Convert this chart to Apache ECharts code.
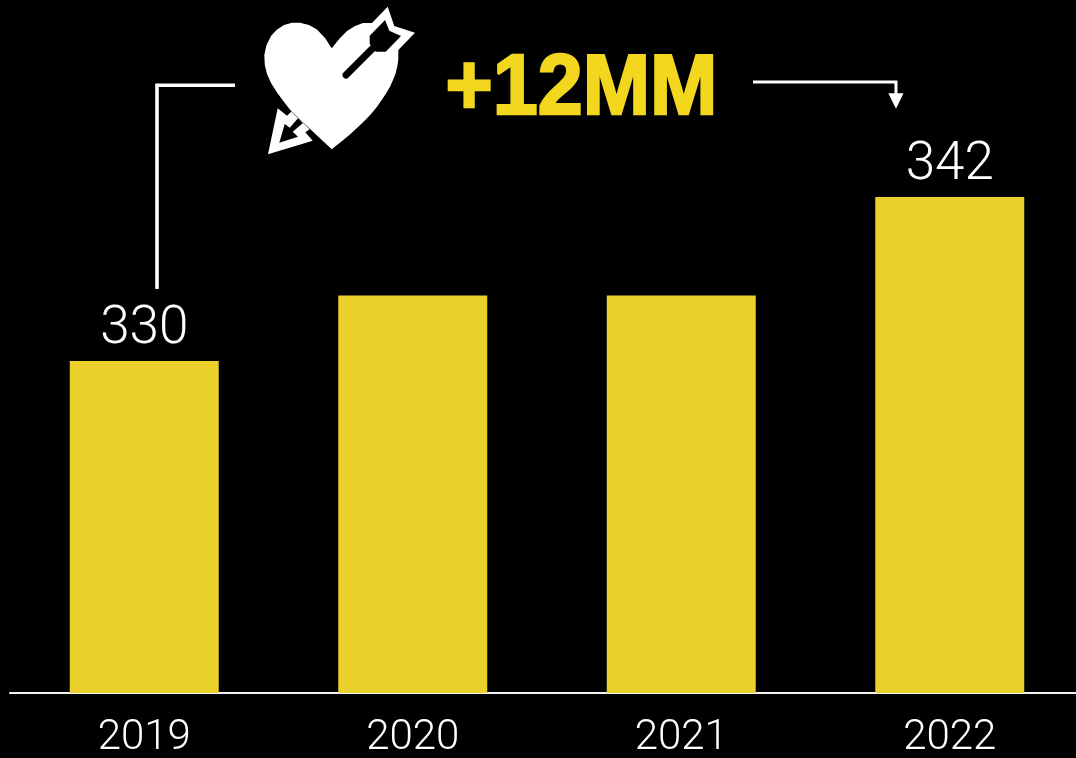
<!DOCTYPE html>
<html>
<head>
<meta charset="utf-8">
<style>html,body{margin:0;padding:0;background:#000}#chart{width:1076px;height:758px}</style>
<script src="https://cdn.jsdelivr.net/npm/echarts@6/dist/echarts.min.js"></script>
</head>
<body>
<div id="chart"></div>
<script>
// Yearly totals; the two end years carry a printed value.
const years = ['2019', '2020', '2021', '2022'];
const totals = [330, 334.8, 334.8, 342];
const labelledYears = ['2019', '2022'];
const gainText = '+12MM';

const BAR = '#EBCF2B';
const GAIN = '#F3D71F';
const INK = '#FFFFFF';
const NUM_FONT = 'Roboto';

// Heart pierced by an arrow, plus the bracket linking the end years.
const heartOutline = [[331.7,48.3],[325,38],[317,29.5],[309,25],[300,22.8],[292,22.8],[284,25],[277,29.5],[271,36],[266.5,45],[264.3,55],[264.8,65],[267,74],[271,83],[277,92.5],[284,102],[291.7,111.7],[331.7,149.3],[343.3,140],[351,133.4],[358.3,126.7],[365.3,120],[371.7,113.3],[377,106.7],[381.7,100],[386,93.4],[390,86.7],[393,80],[395.7,73.3],[397.3,66.5],[398.3,60],[398.3,50],[371.7,23],[363,23],[355,26],[347,31],[340,38]];
const tailOuter = [[371.7,23.3],[387.7,6.7],[394.3,26],[415,32.7],[398.3,50],[380,60]];
const tailInner = [[385,20],[389.3,30.7],[401,36],[385.7,51.7],[375.7,51.7],[369.7,44],[369.7,35.7]];
const headOuter = [[277.7,108.3],[268,154.3],[312.7,140.7],[305.3,132.3],[309.7,129.3],[291.3,111.7],[287,115.7]];
const headInner = [[284.7,124],[279.3,142.7],[298,136.7],[292.7,131.7],[302.7,123.3],[298,118.3],[289.7,127.7]];

const poly = (points, fill) => ({ type: 'polygon', shape: { points }, style: { fill } });
const wire = (points, lineWidth) => ({ type: 'polyline', shape: { points }, style: { stroke: INK, lineWidth, fill: null, lineJoin: 'miter' } });

const decorations = [
  poly(heartOutline, INK),
  poly(tailOuter, INK),
  poly(tailInner, '#000'),
  { type: 'line', shape: { x1: 373, y1: 48, x2: 346, y2: 75 }, style: { stroke: '#000', lineWidth: 7, lineCap: 'round' } },
  poly(headOuter, INK),
  poly(headInner, '#000'),
  wire([[157, 289], [157, 85.2], [235, 85.2]], 3.6),
  wire([[753, 82], [896, 82], [896, 95]], 3),
  poly([[888.3, 93.3], [903.5, 93.3], [896, 108.7]], INK),
  {
    type: 'text', x: 445.5, y: 133, scaleX: 0.94, originX: 0,
    style: { text: gainText, fill: GAIN, stroke: GAIN, lineWidth: 2.5, font: 'bold 86px "Liberation Sans"', verticalAlign: 'bottom' }
  }
];

const chart = echarts.init(document.getElementById('chart'), null, { renderer: 'canvas' });
chart.setOption({
  animation: false,
  backgroundColor: '#000',
  grid: { left: 10, width: 1074, top: 197, bottom: 65, outerBoundsMode: 'none' },
  xAxis: {
    type: 'category',
    data: years,
    axisTick: { show: false },
    axisLine: { lineStyle: { color: '#F2F2F2', width: 2 } },
    axisLabel: { color: INK, fontFamily: NUM_FONT, fontWeight: 300, fontSize: 42, margin: 24 }
  },
  yAxis: { type: 'value', min: 305.7, max: 342, show: false, splitLine: { show: false } },
  series: [{
    type: 'bar',
    barWidth: 149,
    itemStyle: { color: BAR },
    data: totals.map((value, i) => ({
      value,
      label: { show: labelledYears.includes(years[i]) }
    })),
    label: { position: 'top', distance: 5, color: INK, fontFamily: NUM_FONT, fontWeight: 300, fontSize: 53 }
  }],
  graphic: { elements: decorations }
});
</script>
</body>
</html>
